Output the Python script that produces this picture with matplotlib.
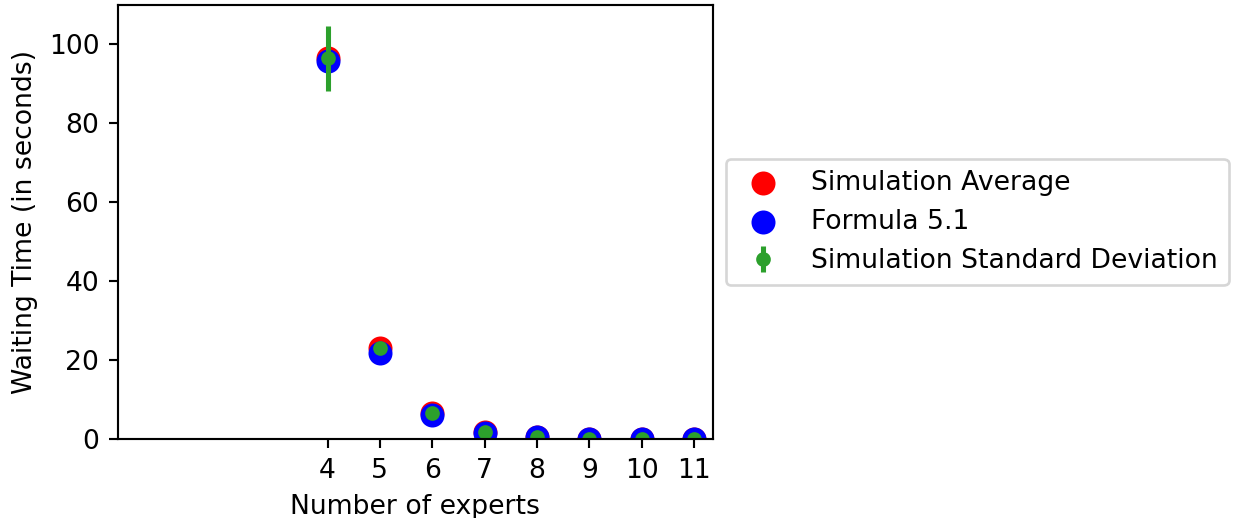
import numpy as np
import matplotlib
matplotlib.use('Agg')
import matplotlib.pyplot as plt

experts = [4, 5, 6, 7, 8, 9, 10, 11]
sim_avg = [96.3, 23.0, 6.6, 1.8, 0.5, 0.12, 0.04, 0.01]
formula = [95.5, 21.8, 6.0, 1.6, 0.45, 0.11, 0.03, 0.01]
sim_std = [8.2, 1.5, 0.6, 0.2, 0.1, 0.05, 0.02, 0.01]

dpi = 192
fig = plt.figure(figsize=(1235 / dpi, 518 / dpi), dpi=dpi)
ax = fig.add_axes([0.0955, 0.1525, 0.4815, 0.8375])

ax.scatter(experts, sim_avg, color='r', s=64, label='Simulation Average')
ax.scatter(experts, formula, color='b', s=64, label='Formula 5.1')
ax.errorbar(experts, sim_avg, yerr=sim_std, fmt='o', markersize=4.5,
            color='C2', lw=1.9, label='Simulation Standard Deviation')

ax.set_xticks(experts)
ax.set_xlim(left=0)
ax.set_ylim(bottom=0)
ax.set_xlabel('Number of experts')
ax.set_ylabel('Waiting Time (in seconds)')
ax.legend(loc='center left', bbox_to_anchor=(1, 0.5), scatterpoints=1)

fig.savefig('out.png', dpi=dpi)
